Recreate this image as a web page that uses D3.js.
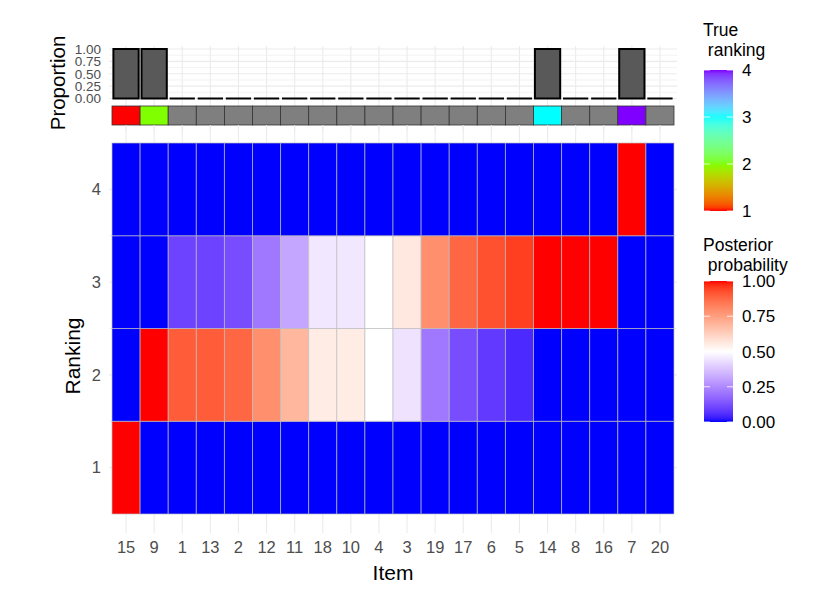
<!DOCTYPE html>
<html>
<head>
<meta charset="utf-8">
<script src="https://cdn.jsdelivr.net/npm/d3@7"></script>
<style>
body { margin: 0; background: #fff; }
svg { font-family: "Liberation Sans", Arial, Helvetica, sans-serif; }
</style>
</head>
<body>
<svg width="830" height="593"></svg>
<script>
// items in plotted order
var items = ["15","9","1","13","2","12","11","18","10","4","3","19","17","6","5","14","8","16","7","20"];
// proportion bars (top panel)
var proportion = [1,1,0,0,0,0,0,0,0,0,0,0,0,0,0,1,0,0,1,0];
// true ranking (null = not ranked)
var trueRank = [1,2,null,null,null,null,null,null,null,null,null,null,null,null,null,3,null,null,4,null];
// posterior probability per ranking
var probRank1 = [1,0,0,0,0,0,0,0,0,0,0,0,0,0,0,0,0,0,0,0];
var probRank2 = [0,1,0.90,0.90,0.88,0.79,0.69,0.55,0.55,0.50,0.44,0.21,0.12,0.08,0.05,0,0,0,0,0];
var probRank3 = [0,0,0.10,0.10,0.12,0.21,0.31,0.45,0.45,0.50,0.56,0.79,0.88,0.92,0.95,1,1,1,0,0];
var probRank4 = [0,0,0,0,0,0,0,0,0,0,0,0,0,0,0,0,0,0,1,0];
var rankings = [1,2,3,4];
var propTicks = [0, 0.25, 0.5, 0.75, 1];

var svg = d3.select("svg");
var grid = "#ebebeb";
var tickCol = "#4d4d4d";

var cells = [];
[probRank1, probRank2, probRank3, probRank4].forEach(function(arr, r) {
  arr.forEach(function(v, i) { cells.push({item: items[i], rank: r + 1, p: v}); });
});

// scales
var x = d3.scaleBand().domain(items).range([112, 674]);
var y = d3.scaleLinear().domain([0.5, 4.5]).range([514, 143]);
var yp = d3.scaleLinear().domain([0, 1]).range([98.5, 49]);
var colP = d3.scaleLinear().domain([0, 0.5, 1]).range(["#0000ff", "#ffffff", "#ff0000"]).interpolate(d3.interpolateLab);
var colT = d3.scaleLinear().domain([1, 2, 3, 4]).range(["#ff0000", "#80ff00", "#00ffff", "#8000ff"]).interpolate(d3.interpolateLab);

//////////// TOP PANEL ////////////
var topPanel = svg.append("g");
// horizontal grid (major + minor)
d3.range(0, 1.0001, 0.125).forEach(function(v) {
  topPanel.append("line").attr("x1", 109).attr("x2", 677)
    .attr("y1", yp(v)).attr("y2", yp(v))
    .attr("stroke", grid).attr("stroke-width", (v * 4) % 1 === 0 ? 1.1 : 0.6);
});
topPanel.selectAll(".vg").data(items).enter().append("line")
  .attr("x1", function(d) { return x(d) + x.bandwidth() / 2; })
  .attr("x2", function(d) { return x(d) + x.bandwidth() / 2; })
  .attr("y1", 46).attr("y2", 131)
  .attr("stroke", grid).attr("stroke-width", 1.1);

// bars drawn as closed paths so zero-height bars still show their outline
topPanel.selectAll(".bar").data(items).enter().append("path")
  .attr("d", function(d, i) {
    var x0 = x(d) + x.bandwidth() * 0.05, x1 = x0 + x.bandwidth() * 0.9;
    var y0 = yp(0), y1 = yp(proportion[i]);
    return "M" + x0 + "," + y0 + "L" + x0 + "," + y1 + "L" + x1 + "," + y1 + "L" + x1 + "," + y0 + "Z";
  })
  .attr("fill", "#595959").attr("stroke", "#000").attr("stroke-width", 2);

topPanel.selectAll(".strip").data(items).enter().append("rect")
  .attr("x", function(d) { return x(d); })
  .attr("width", x.bandwidth())
  .attr("y", 106).attr("height", 19)
  .attr("fill", function(d, i) { return trueRank[i] == null ? "#7f7f7f" : colT(trueRank[i]); })
  .attr("stroke", "#333").attr("stroke-width", 0.8);

topPanel.selectAll(".pt").data(propTicks).enter().append("text")
  .attr("x", 101).attr("y", function(d) { return yp(d); })
  .attr("dy", "0.36em").attr("text-anchor", "end")
  .attr("font-size", 13.5).attr("fill", tickCol)
  .text(function(d) { return d3.format(".2f")(d); });

svg.append("text").attr("transform", "translate(65,83) rotate(-90)")
  .attr("text-anchor", "middle").attr("font-size", 20.5).text("Proportion");

//////////// HEATMAP ////////////
var hm = svg.append("g");
hm.selectAll(".vg").data(items).enter().append("line")
  .attr("x1", function(d) { return x(d) + x.bandwidth() / 2; })
  .attr("x2", function(d) { return x(d) + x.bandwidth() / 2; })
  .attr("y1", 125).attr("y2", 533)
  .attr("stroke", grid).attr("stroke-width", 1.1);
d3.range(1, 4.01, 0.5).forEach(function(v) {
  hm.append("line").attr("x1", 109).attr("x2", 677)
    .attr("y1", y(v)).attr("y2", y(v))
    .attr("stroke", grid).attr("stroke-width", v % 1 === 0 ? 1.1 : 0.6);
});
hm.selectAll(".cell").data(cells).enter().append("rect")
  .attr("x", function(d) { return x(d.item); })
  .attr("width", x.bandwidth())
  .attr("y", function(d) { return y(d.rank + 0.5); })
  .attr("height", function(d) { return y(d.rank - 0.5) - y(d.rank + 0.5); })
  .attr("fill", function(d) { return colP(d.p); })
  .attr("stroke", "rgba(190,190,190,0.75)").attr("stroke-width", 0.9);

var xAxis = svg.append("g").attr("transform", "translate(0,533)")
  .call(d3.axisBottom(x).tickSize(0).tickPadding(8));
xAxis.select(".domain").remove();
xAxis.selectAll("text").attr("font-size", 16.5).attr("fill", tickCol).attr("font-family", null);

var yAxis = svg.append("g").attr("transform", "translate(109,0)")
  .call(d3.axisLeft(y).tickValues(rankings).tickFormat(d3.format("d")).tickSize(0).tickPadding(8));
yAxis.select(".domain").remove();
yAxis.selectAll("text").attr("font-size", 16.5).attr("fill", tickCol).attr("font-family", null);

svg.append("text").attr("x", 393).attr("y", 580).attr("text-anchor", "middle")
  .attr("font-size", 21).text("Item");
svg.append("text").attr("transform", "translate(80,356) rotate(-90)")
  .attr("text-anchor", "middle").attr("font-size", 21).text("Ranking");

//////////// LEGENDS ////////////
var defs = svg.append("defs");
function gradient(id, scale, domain) {
  var g = defs.append("linearGradient").attr("id", id)
    .attr("x1", 0).attr("y1", 1).attr("x2", 0).attr("y2", 0);
  d3.range(0, 1.0001, 0.025).forEach(function(t) {
    g.append("stop").attr("offset", t)
      .attr("stop-color", scale(domain[0] + t * (domain[1] - domain[0])));
  });
}
gradient("gT", colT, [1, 4]);
gradient("gP", colP, [0, 1]);

function legend(title, gid, y0, y1, ticks, dom, fmt, titleY) {
  var g = svg.append("g");
  g.append("text").attr("x", 703).attr("y", titleY).attr("font-size", 17.5).text(title[0]);
  g.append("text").attr("x", 703).attr("y", titleY + 20).attr("font-size", 17.5)
    .attr("xml:space", "preserve").text(title[1]);
  g.append("rect").attr("x", 704).attr("y", y0).attr("width", 29).attr("height", y1 - y0)
    .attr("fill", "url(#" + gid + ")");
  var s = d3.scaleLinear().domain(dom).range([y1, y0]);
  ticks.forEach(function(t) {
    g.append("line").attr("x1", 704).attr("x2", 710).attr("y1", s(t)).attr("y2", s(t))
      .attr("stroke", "#fff").attr("stroke-width", 0.8);
    g.append("line").attr("x1", 727).attr("x2", 733).attr("y1", s(t)).attr("y2", s(t))
      .attr("stroke", "#fff").attr("stroke-width", 0.8);
    g.append("text").attr("x", 742).attr("y", s(t)).attr("dy", "0.36em")
      .attr("font-size", 17).text(fmt(t));
  });
}
legend(["True", " ranking"], "gT", 70, 211, [1, 2, 3, 4], [1, 4], d3.format("d"), 36);
legend(["Posterior", " probability"], "gP", 281, 422, [0, 0.25, 0.5, 0.75, 1], [0, 1], d3.format(".2f"), 251);
</script>
</body>
</html>
